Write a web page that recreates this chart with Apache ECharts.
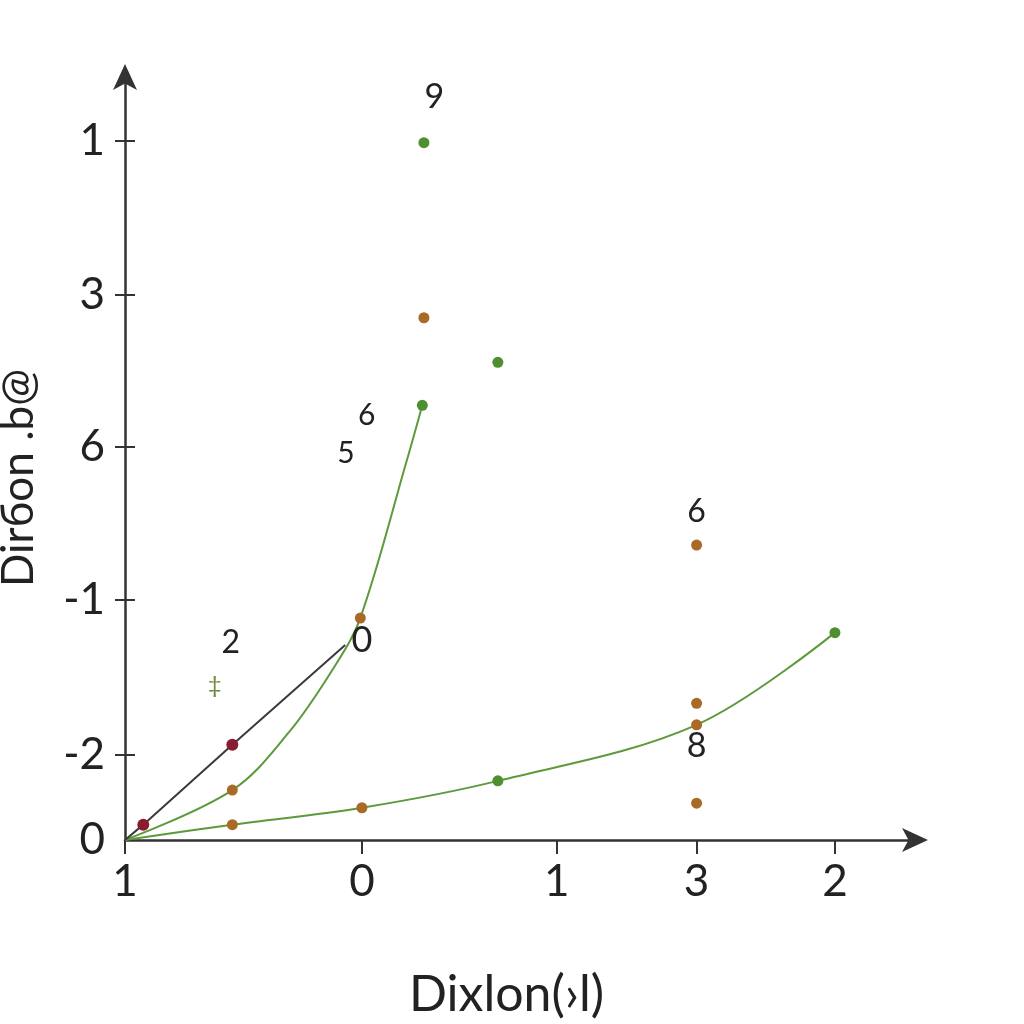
<!DOCTYPE html>
<html><head><meta charset="utf-8">
<script src="https://cdn.jsdelivr.net/npm/echarts@6/dist/echarts.min.js"></script>
<style>html,body{margin:0;padding:0;background:#fff}#c{width:1024px;height:1024px}</style>
</head><body><div id="c"></div>
<script>
// Axis ticks (positions in data units) and their printed labels
const xTickValues = [0, 2.98, 5.43, 7.19, 8.93];
const xTickLabels = ['1', '0', '1', '3', '2'];
const yTickValues = [0, 1.11, 3.13, 5.12, 7.10, 9.11];
const yTickLabels = ['0', '-2', '-1', '6', '3', '1'];
const xTitle = 'Dixlon(›l)';
const yTitle = 'Dirбon .b@';

// Straight dark line with dark-red markers
const darkLineX = [0, 0.23, 1.35, 2.77];
const darkLineY = [0, 0.20, 1.24, 2.54];
const darkLineMarked = [false, true, true, false];

// Steep green curve
const steepX = [0, 1.35, 2.06, 2.63, 2.96, 3.55, 3.74];
const steepY = [0, 0.65, 1.40, 2.25, 2.89, 4.96, 5.66];
const steepMarker = ['none', 'orange', 'none', 'none', 'orange', 'none', 'green'];

// Shallow green curve
const shallowX = [0, 1.35, 2.98, 4.69, 7.19, 8.93];
const shallowY = [0, 0.20, 0.42, 0.77, 1.50, 2.70];
const shallowMarker = ['none', 'orange', 'orange', 'green', 'orange', 'green'];

// Loose points
const looseX = [3.76, 3.76, 4.69, 7.19, 7.19, 7.19];
const looseY = [9.08, 6.80, 6.22, 3.84, 1.78, 0.48];
const looseKind = ['green', 'orange', 'green', 'orange', 'orange', 'orange'];

// Floating number annotations
const noteX = [3.89, 3.04, 2.78, 7.19, 1.33, 2.98, 7.19];
const noteY = [9.67, 5.53, 5.04, 4.27, 2.57, 2.60, 1.22];
const noteText = ['9', '6', '5', '6', '2', '0', '8'];
const noteSize = [34, 30, 30, 32, 32, 36, 34];
const glyphX = [1.13];
const glyphY = [2.02];
const glyphText = ['‡'];

const COL = { green: '#4f8f2f', orange: '#a86a26', red: '#8a1c30', none: 'transparent' };
const FONT = 'Lato, "Open Sans", sans-serif';

function lookup(vals, labels) {
  return function (v) {
    for (let i = 0; i < vals.length; i++) if (Math.abs(vals[i] - v) < 1e-6) return labels[i];
    return '';
  };
}

const darkData = darkLineX.map((x, i) => ({
  value: [x, darkLineY[i]],
  symbolSize: darkLineMarked[i] ? 12 : 0,
  itemStyle: { color: COL.red }
}));
const steepData = steepX.map((x, i) => ({
  value: [x, steepY[i]],
  symbolSize: steepMarker[i] === 'none' ? 0 : 11,
  itemStyle: { color: COL[steepMarker[i]] }
}));
const shallowData = shallowX.map((x, i) => ({
  value: [x, shallowY[i]],
  symbolSize: shallowMarker[i] === 'none' ? 0 : 11,
  itemStyle: { color: COL[shallowMarker[i]] }
}));
const looseData = looseX.map((x, i) => ({
  value: [x, looseY[i]],
  itemStyle: { color: COL[looseKind[i]], opacity: 1 }
}));
const noteData = noteX.map((x, i) => ({
  value: [x, noteY[i]],
  label: { formatter: noteText[i], fontSize: noteSize[i] }
}));
const glyphData = glyphX.map((x, i) => ({ value: [x, glyphY[i]], label: { formatter: glyphText[i] } }));

const axisCommon = { color: '#222', fontFamily: FONT };

const chart = echarts.init(document.getElementById('c'), null, { renderer: 'canvas' });
chart.setOption({
  backgroundColor: '#ffffff',
  animation: false,
  grid: { left: 125, right: 104, top: 72, bottom: 184, containLabel: false, outerBoundsMode: 'none' },
  xAxis: {
    type: 'value', min: 0, max: 10,
    name: xTitle, nameLocation: 'middle', nameGap: 130,
    nameTextStyle: { fontSize: 50, color: '#222', fontFamily: FONT, padding: [0, 32, 0, 0] },
    axisLine: { show: true, onZero: false, lineStyle: { color: '#333', width: 2.5 },
      symbol: ['none', 'arrow'], symbolSize: [18, 26], symbolOffset: [0, 8] },
    axisTick: { show: true, length: 14, lineStyle: { color: '#333', width: 2 }, customValues: xTickValues },
    axisLabel: { show: true, fontSize: 44, margin: 20, customValues: xTickValues,
      formatter: lookup(xTickValues, xTickLabels), ...axisCommon },
    splitLine: { show: false }
  },
  yAxis: [{
    type: 'value', min: 0, max: 10,
    name: yTitle, nameLocation: 'middle', nameGap: 84, nameRotate: 90,
    nameTextStyle: { fontSize: 44, color: '#222', fontFamily: FONT, padding: [0, 44, 0, 0] },
    axisLine: { show: true, onZero: false, lineStyle: { color: '#333', width: 2.5 },
      symbol: ['none', 'arrow'], symbolSize: [18, 26], symbolOffset: [0, 8] },
    axisTick: { show: true, length: 10, lineStyle: { color: '#333', width: 2 },
      customValues: yTickValues.slice(1) },
    axisLabel: { show: true, fontSize: 44, margin: 20, customValues: yTickValues,
      formatter: lookup(yTickValues, yTickLabels), ...axisCommon },
    splitLine: { show: false }
  }, {
    type: 'value', min: 0, max: 10, position: 'left',
    axisLine: { show: false },
    axisTick: { show: true, inside: true, length: 10, lineStyle: { color: '#333', width: 2 },
      customValues: yTickValues.slice(1) },
    axisLabel: { show: false },
    splitLine: { show: false }
  }],
  series: [
    { type: 'line', data: darkData, symbol: 'circle', showSymbol: true,
      lineStyle: { color: '#3a3a3a', width: 2 }, z: 3 },
    { type: 'line', data: steepData, symbol: 'circle', smooth: 0.35,
      lineStyle: { color: '#5c9a3c', width: 2 }, z: 2 },
    { type: 'line', data: shallowData, symbol: 'circle', smooth: 0.35,
      lineStyle: { color: '#5c9a3c', width: 2 }, z: 2 },
    { type: 'scatter', data: looseData, symbol: 'circle', symbolSize: 11, z: 4 },
    { type: 'scatter', data: noteData, symbolSize: 0, silent: true, itemStyle: { opacity: 1 },
      label: { show: true, position: 'inside', color: '#222', fontFamily: FONT }, z: 5 },
    { type: 'scatter', data: glyphData, symbolSize: 0, silent: true, itemStyle: { opacity: 1 },
      label: { show: true, position: 'inside', color: '#6f8a3a', fontSize: 24, fontFamily: FONT }, z: 5 }
  ]
});
</script>
</body></html>
